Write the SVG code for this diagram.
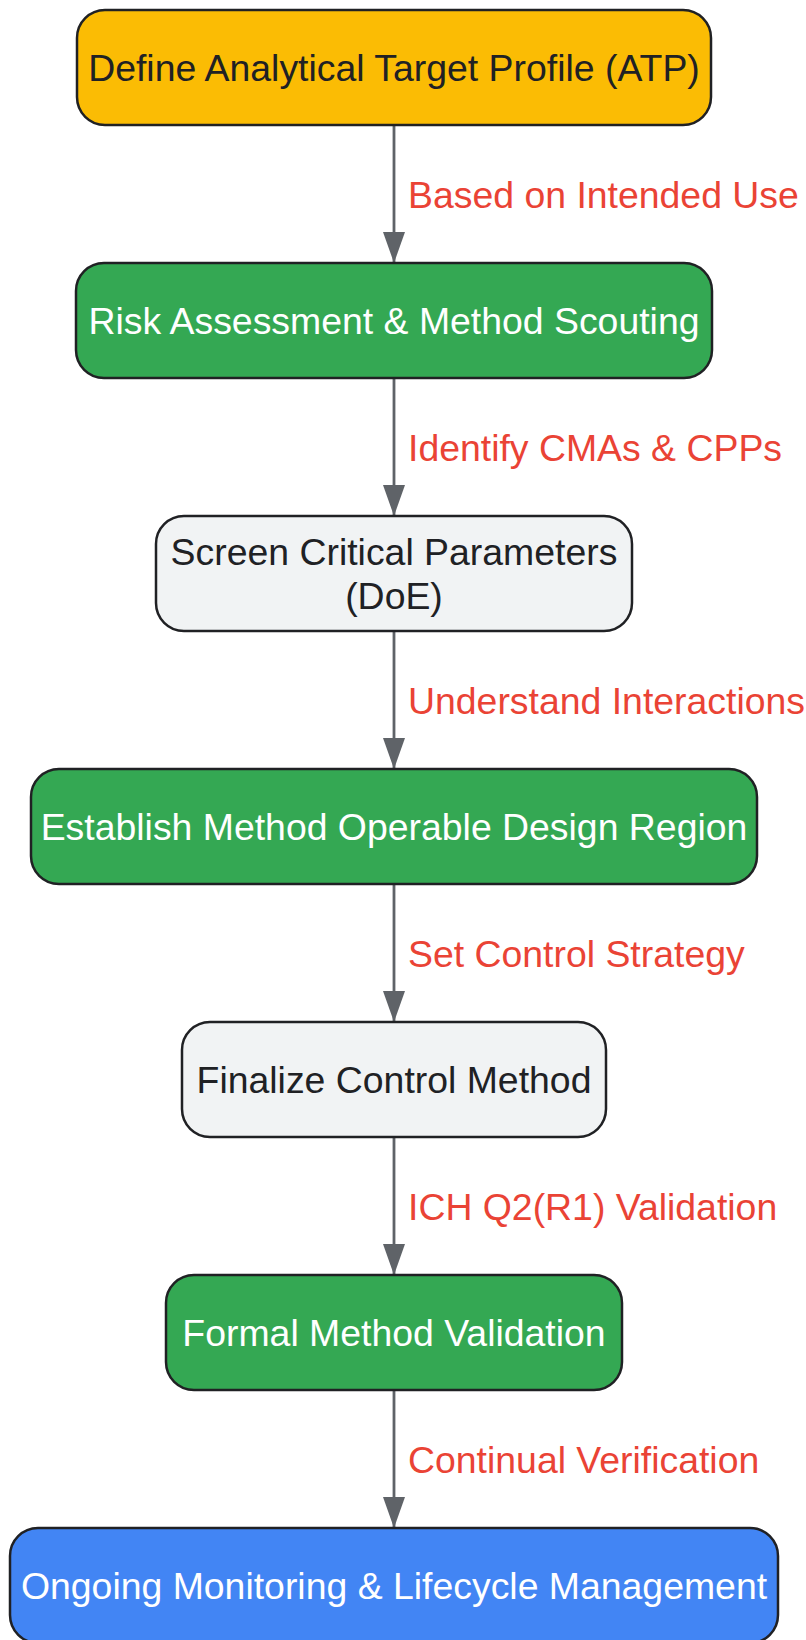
<svg xmlns="http://www.w3.org/2000/svg" width="806" height="1640" viewBox="0 0 806 1640">
<defs>
<style>
.node rect{stroke:#202124;stroke-width:2.5}
.t{font-family:"Liberation Sans",Arial,sans-serif;font-size:37.4px;text-anchor:middle}
.dark{fill:#202124}
.light{fill:#ffffff}
.lbl{font-family:"Liberation Sans",Arial,sans-serif;font-size:37.4px;fill:#EA4335}
.edge{stroke:#5F6368;stroke-width:2.8;fill:none}
</style>
<marker id="arr" viewBox="0 0 31 22" refX="31" refY="11" markerWidth="31" markerHeight="22" markerUnits="userSpaceOnUse" orient="auto">
<path d="M0,0 L31,11 L0,22 Z" fill="#5F6368"/>
</marker>
</defs>
<rect width="806" height="1640" fill="#ffffff"/>
<g id="connectors">
<line class="edge" x1="394" y1="125" x2="394" y2="263" marker-end="url(#arr)"/>
<line class="edge" x1="394" y1="378" x2="394" y2="516" marker-end="url(#arr)"/>
<line class="edge" x1="394" y1="631" x2="394" y2="769" marker-end="url(#arr)"/>
<line class="edge" x1="394" y1="884" x2="394" y2="1022" marker-end="url(#arr)"/>
<line class="edge" x1="394" y1="1137" x2="394" y2="1275" marker-end="url(#arr)"/>
<line class="edge" x1="394" y1="1390" x2="394" y2="1528" marker-end="url(#arr)"/>
<text class="lbl" x="408" y="208">Based on Intended Use</text>
<text class="lbl" x="408" y="461">Identify CMAs &amp; CPPs</text>
<text class="lbl" x="408" y="714">Understand Interactions</text>
<text class="lbl" x="408" y="967">Set Control Strategy</text>
<text class="lbl" x="408" y="1220">ICH Q2(R1) Validation</text>
<text class="lbl" x="408" y="1473">Continual Verification</text>
</g>
<g id="n1" class="node">
<rect x="77" y="10" width="634" height="115" rx="28" fill="#FBBC04"/>
<text class="t dark" x="394" y="81">Define Analytical Target Profile (ATP)</text>
</g>
<g id="n2" class="node">
<rect x="76" y="263" width="636" height="115" rx="28" fill="#34A853"/>
<text class="t light" x="394" y="334">Risk Assessment &amp; Method Scouting</text>
</g>
<g id="n3" class="node">
<rect x="156" y="516" width="476" height="115" rx="28" fill="#F1F3F4"/>
<text class="t dark" x="394" y="565">Screen Critical Parameters</text>
<text class="t dark" x="394" y="609">(DoE)</text>
</g>
<g id="n4" class="node">
<rect x="31" y="769" width="726" height="115" rx="28" fill="#34A853"/>
<text class="t light" x="394" y="840">Establish Method Operable Design Region</text>
</g>
<g id="n5" class="node">
<rect x="182" y="1022" width="424" height="115" rx="28" fill="#F1F3F4"/>
<text class="t dark" x="394" y="1093">Finalize Control Method</text>
</g>
<g id="n6" class="node">
<rect x="166" y="1275" width="456" height="115" rx="28" fill="#34A853"/>
<text class="t light" x="394" y="1346">Formal Method Validation</text>
</g>
<g id="n7" class="node">
<rect x="10" y="1528" width="768" height="115" rx="28" fill="#4285F4"/>
<text class="t light" x="394" y="1599">Ongoing Monitoring &amp; Lifecycle Management</text>
</g>
</svg>
